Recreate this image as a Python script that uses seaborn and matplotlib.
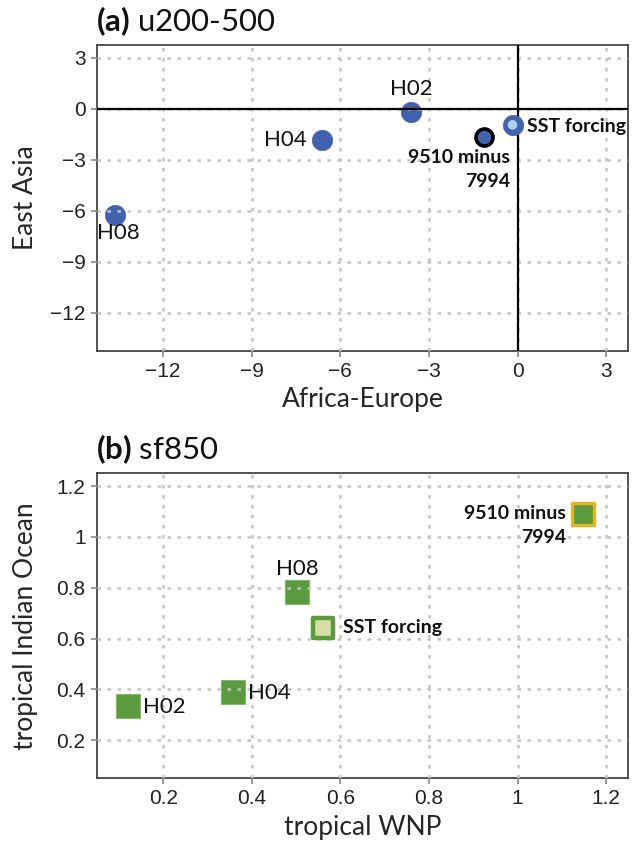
import matplotlib
matplotlib.use("Agg")
import matplotlib.pyplot as plt
import seaborn as sns
import pandas as pd

# ---- data -------------------------------------------------------------
run_labels = ["H02", "H04", "H08"]

# (a) u200-500 : Africa-Europe vs East Asia
afr_eur = [-3.60, -6.62, -13.63]
east_asia = [-0.20, -1.83, -6.26]
sst_a = [-0.17, -0.95]
obs_a = [-1.14, -1.64]

# (b) sf850 : tropical WNP vs tropical Indian Ocean
trop_wnp = [0.120, 0.357, 0.502]
trop_io = [0.335, 0.390, 0.784]
sst_b = [0.561, 0.643]
obs_b = [1.148, 1.088]

ticks_a = [-12, -9, -6, -3, 0, 3]
tick_labels_a = ["\u221212", "\u22129", "\u22126", "\u22123", "0", "3"]
ticks_b = [0.2, 0.4, 0.6, 0.8, 1.0, 1.2]
tick_labels_b = ["0.2", "0.4", "0.6", "0.8", "1", "1.2"]

sst_label = "SST forcing"
obs_label = "9510 minus\n7994"

# ---- style ------------------------------------------------------------
sns.set_style("white")
plt.rcParams["font.family"] = ["Lato", "DejaVu Sans"]
plt.rcParams["mathtext.fontset"] = "custom"
plt.rcParams["mathtext.bf"] = "Lato:bold"
plt.rcParams["mathtext.rm"] = "Lato"

BLUE = "#4262b0"
LIGHT_BLUE = "#a9d6ea"
GREEN = "#5b9a3e"
GREEN_EDGE = "#86b86a"
LIGHT_GREEN = "#d6dea6"
GOLD = "#e6b51e"
GRID = "#c4c4c4"
TICK_FONT = ["Liberation Sans", "DejaVu Sans"]
LABEL_SIZE = 19

fig = plt.figure(figsize=(6.37, 8.47), dpi=100)
ax_a = fig.add_axes([0.1518, 0.5859, 0.8345, 0.3609])
ax_b = fig.add_axes([0.1518, 0.0811, 0.8345, 0.3601])


def style_axes(ax, ticks, labels, lims):
    ax.set_xlim(*lims)
    ax.set_ylim(*lims)
    ax.set_xticks(ticks)
    ax.set_yticks(ticks)
    ax.set_xticklabels(labels)
    ax.set_yticklabels(labels)
    for lab in ax.get_xticklabels() + ax.get_yticklabels():
        lab.set_fontfamily(TICK_FONT)
        lab.set_fontsize(15)
        lab.set_color("#222222")
    ax.tick_params(axis="both", length=4, width=1.2, color="#888888", pad=4,
                   bottom=True, left=True)
    for sp in ax.spines.values():
        sp.set_color("#444444")
        sp.set_linewidth(1.3)
    ax.grid(True, color=GRID, linewidth=1.8, linestyle=(0, (1.4, 2.6)), zorder=3)
    ax.set_axisbelow(False)


def axis_labels(ax, xlabel, ylabel):
    ax.set_xlabel(xlabel, fontsize=LABEL_SIZE, va="center")
    ax.set_ylabel(ylabel, fontsize=LABEL_SIZE, va="center")
    ax.xaxis.set_label_coords(0.5, -0.16)
    ax.yaxis.set_label_coords(-0.134, 0.5)


def panel_title(ax, tag, text):
    ax.text(-0.002, 1.078, r"$\bf{" + tag + "}$ " + text, transform=ax.transAxes,
            ha="left", va="center", fontsize=22.5, color="#111111")


label_kw = dict(textcoords="offset pixels", fontsize=16, color="#111111", zorder=5)
bold_kw = dict(textcoords="offset pixels", fontsize=14, fontweight="bold",
               color="#111111", zorder=5)

# ---- panel (a) ------------------------------------------------------------
style_axes(ax_a, ticks_a, tick_labels_a, (-14.25, 3.75))
ax_a.axhline(0, color="black", linewidth=1.6, zorder=3.5)
ax_a.axvline(0, color="black", linewidth=1.6, zorder=3.5)

df_a = pd.DataFrame({"x": afr_eur, "y": east_asia, "run": run_labels})
sns.scatterplot(data=df_a, x="x", y="y", ax=ax_a, s=215, color=BLUE,
                edgecolor=BLUE, linewidth=0.5, zorder=2, legend=False)
sns.scatterplot(x=[sst_a[0]], y=[sst_a[1]], ax=ax_a, s=215, color=BLUE,
                edgecolor=BLUE, linewidth=0.5, zorder=4, legend=False)
sns.scatterplot(x=[sst_a[0]], y=[sst_a[1]], ax=ax_a, s=48, color=LIGHT_BLUE,
                edgecolor="none", zorder=4.2, legend=False)
sns.scatterplot(x=[obs_a[0]], y=[obs_a[1]], ax=ax_a, s=150, color=BLUE,
                edgecolor="black", linewidth=2.6, zorder=4, legend=False)

offsets_a = {"H02": ((0, 23), "center"), "H04": ((-15, 0), "right"),
             "H08": ((3, -18), "center")}
for xv, yv, lab in zip(afr_eur, east_asia, run_labels):
    off, ha = offsets_a[lab]
    ax_a.annotate(lab, (xv, yv), xytext=off, ha=ha, va="center", **label_kw)
ax_a.annotate(sst_label, tuple(sst_a), xytext=(14, -2), ha="left", va="center", **bold_kw)
ax_a.annotate(obs_label, tuple(obs_a), xytext=(26, -33), ha="right", va="center",
              multialignment="right", linespacing=1.5, **bold_kw)

axis_labels(ax_a, "Africa-Europe", "East Asia")
panel_title(ax_a, "(a)", "u200-500")

# ---- panel (b) ------------------------------------------------------------
style_axes(ax_b, ticks_b, tick_labels_b, (0.05, 1.25))

df_b = pd.DataFrame({"x": trop_wnp, "y": trop_io, "run": run_labels})
sns.scatterplot(data=df_b, x="x", y="y", ax=ax_b, s=300, marker="s", color=GREEN,
                edgecolor=GREEN_EDGE, linewidth=0.8, zorder=2, legend=False)
sns.scatterplot(x=[sst_b[0]], y=[sst_b[1]], ax=ax_b, s=210, marker="s",
                color=LIGHT_GREEN, edgecolor=GREEN, linewidth=3.2, zorder=4, legend=False)
sns.scatterplot(x=[obs_b[0]], y=[obs_b[1]], ax=ax_b, s=230, marker="s",
                color=GREEN, edgecolor=GOLD, linewidth=2.4, zorder=4, legend=False)

offsets_b = {"H02": ((15, -1), "left"), "H04": ((15, -1), "left"),
             "H08": ((0, 23), "center")}
for xv, yv, lab in zip(trop_wnp, trop_io, run_labels):
    off, ha = offsets_b[lab]
    ax_b.annotate(lab, (xv, yv), xytext=off, ha=ha, va="center", **label_kw)
ax_b.annotate(sst_label, tuple(sst_b), xytext=(20, 0), ha="left", va="center", **bold_kw)
ax_b.annotate(obs_label, tuple(obs_b), xytext=(-17, -11), ha="right", va="center",
              multialignment="right", linespacing=1.5, **bold_kw)

axis_labels(ax_b, "tropical WNP", "tropical Indian Ocean")
panel_title(ax_b, "(b)", "sf850")

fig.savefig("out.png", dpi=100)
